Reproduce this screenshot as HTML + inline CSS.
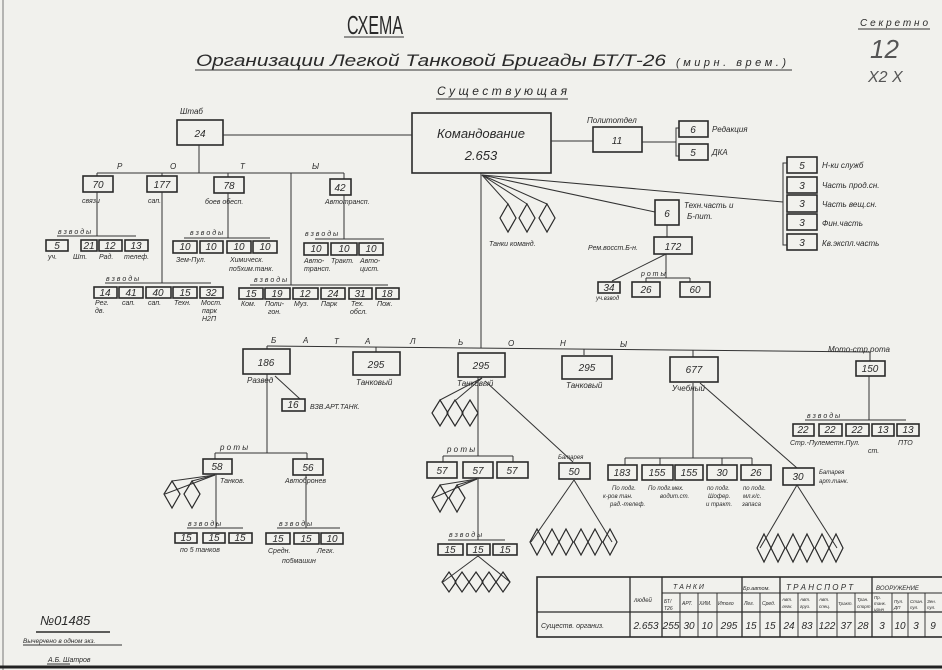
<!DOCTYPE html>
<html><head><meta charset="utf-8">
<style>
html,body{margin:0;padding:0;background:#f1f1ed;}
svg{display:block}
text{font-family:"Liberation Sans","DejaVu Sans",sans-serif;font-style:italic;fill:#2a2a2a}
.b{fill:none;stroke:#2a2a2a;stroke-width:1.6}
.l{fill:none;stroke:#333;stroke-width:1}
.d{fill:none;stroke:#2a2a2a;stroke-width:1.2}
.n{font-size:10px;text-anchor:middle}
.s{font-size:7px}
.m{font-size:8px}
</style></head><body>
<svg width="942" height="670" viewBox="0 0 942 670" xmlns="http://www.w3.org/2000/svg">
<rect width="942" height="670" fill="#f1f1ed"/>
<line x1="3" y1="0" x2="3" y2="670" stroke="#777" stroke-width="1"/>
<line x1="0" y1="667" x2="942" y2="667" stroke="#222" stroke-width="3"/>

<!-- titles -->
<text x="347" y="34" font-size="26" style="font-style:normal" textLength="56" lengthAdjust="spacingAndGlyphs">СХЕМА</text>
<line x1="344" y1="37" x2="404" y2="37" class="l" stroke-width="1.3"/>
<text x="196" y="66" font-size="17" textLength="470" lengthAdjust="spacingAndGlyphs">Организации Легкой Танковой Бригады БТ/Т-26</text>
<text x="676" y="66" font-size="11" textLength="110">(мирн. врем.)</text>
<line x1="195" y1="70" x2="792" y2="70" class="l" stroke-width="1.3"/>
<text x="437" y="95" font-size="12" textLength="130">Существующая</text>
<line x1="436" y1="99" x2="568" y2="99" class="l"/>
<text x="860" y="26" font-size="10" textLength="68">Секретно</text>
<line x1="858" y1="29" x2="930" y2="29" class="l"/>
<text x="870" y="58" font-size="26" style="fill:#555">12</text>
<text x="868" y="82" font-size="16" style="fill:#555">Х2 Х</text>

<!-- Command -->
<rect x="412" y="113" width="139" height="60" class="b"/>
<text x="481" y="138" font-size="13" text-anchor="middle">Командование</text>
<text x="481" y="160" font-size="13" text-anchor="middle">2.653</text>
<!-- shtab -->
<text x="180" y="114" class="m">Штаб</text>
<rect x="177" y="120" width="46" height="25" class="b"/>
<text x="200" y="137" class="n">24</text>
<line x1="223" y1="135" x2="412" y2="135" class="l"/>
<!-- politotdel -->
<text x="587" y="123" class="m">Политотдел</text>
<rect x="593" y="127" width="49" height="25" class="b"/>
<text x="617" y="144" class="n">11</text>
<line x1="551" y1="141" x2="593" y2="141" class="l"/>
<line x1="642" y1="142" x2="676" y2="142" class="l"/>
<polyline points="679,128 676,128 676,156 679,156" class="l"/>
<rect x="679" y="121" width="29" height="16" class="b"/><text x="693" y="133" class="n">6</text>
<rect x="679" y="144" width="29" height="16" class="b"/><text x="693" y="156" class="n">5</text>
<text x="712" y="132" class="m">Редакция</text>
<text x="712" y="155" class="m">ДКА</text>
<!-- right stack -->
<polyline points="787,163 783,163 783,245 787,245" class="l"/>
<rect x="787" y="157" width="30" height="16" class="b"/><text x="802" y="169" class="n">5</text>
<rect x="787" y="177" width="30" height="16" class="b"/><text x="802" y="189" class="n">3</text>
<rect x="787" y="195" width="30" height="17" class="b"/><text x="802" y="207" class="n">3</text>
<rect x="787" y="214" width="30" height="16" class="b"/><text x="802" y="226" class="n">3</text>
<rect x="787" y="234" width="30" height="16" class="b"/><text x="802" y="246" class="n">3</text>
<text x="822" y="168" class="m">Н-ки служб</text>
<text x="822" y="188" class="m">Часть прод.сн.</text>
<text x="822" y="207" class="m">Часть вещ.сн.</text>
<text x="822" y="226" class="m">Фин.часть</text>
<text x="822" y="246" class="m">Кв.экспл.часть</text>
<line x1="482" y1="175" x2="783" y2="202" class="l"/>
<!-- tech part -->
<line x1="482" y1="175" x2="655" y2="212" class="l"/>
<rect x="655" y="200" width="24" height="25" class="b"/><text x="667" y="217" class="n">6</text>
<text x="684" y="208" class="m">Техн.часть и</text>
<text x="687" y="219" class="m">Б-пит.</text>
<line x1="667" y1="225" x2="667" y2="237" class="l"/>
<rect x="654" y="237" width="38" height="17" class="b"/><text x="673" y="250" class="n">172</text>
<text x="588" y="250" class="s">Рем.восст.Б-н.</text>
<line x1="666" y1="254" x2="612" y2="281" class="l"/>
<line x1="666" y1="254" x2="666" y2="278" class="l"/>
<line x1="646" y1="278" x2="690" y2="278" class="l"/>
<line x1="646" y1="278" x2="646" y2="282" class="l"/>
<line x1="690" y1="278" x2="690" y2="282" class="l"/>
<text x="641" y="276" class="s">р о  т ы</text>
<rect x="598" y="282" width="22" height="11" class="b"/><text x="609" y="291" class="n" font-size="8">34</text>
<text x="596" y="300" font-size="6">уч.взвод</text>
<rect x="632" y="282" width="28" height="15" class="b"/><text x="646" y="293" class="n">26</text>
<rect x="680" y="282" width="30" height="15" class="b"/><text x="695" y="293" class="n">60</text>
<!-- command tanks -->
<line x1="482" y1="175" x2="508" y2="204" class="l"/>
<line x1="482" y1="175" x2="527" y2="204" class="l"/>
<line x1="482" y1="175" x2="547" y2="204" class="l"/>
<polygon points="508,204 516,218 508,232 500,218" class="d"/>
<polygon points="527,204 535,218 527,232 519,218" class="d"/>
<polygon points="547,204 555,218 547,232 539,218" class="d"/>
<text x="489" y="246" class="s">Танки команд.</text>
<line x1="481" y1="173" x2="481" y2="348" class="l"/>

<!-- Shtab companies -->
<line x1="199" y1="145" x2="199" y2="173" class="l"/>
<line x1="97" y1="173" x2="344" y2="173" class="l"/>
<text x="117" y="169" class="m">Р</text><text x="170" y="169" class="m">О</text><text x="240" y="169" class="m">Т</text><text x="312" y="169" class="m">Ы</text>
<line x1="97" y1="173" x2="97" y2="176" class="l"/>
<line x1="162" y1="173" x2="162" y2="176" class="l"/>
<line x1="228" y1="173" x2="228" y2="177" class="l"/>
<line x1="344" y1="173" x2="344" y2="179" class="l"/>
<rect x="83" y="176" width="30" height="16" class="b"/><text x="98" y="188" class="n">70</text>
<rect x="147" y="176" width="30" height="16" class="b"/><text x="162" y="188" class="n">177</text>
<rect x="214" y="177" width="30" height="16" class="b"/><text x="229" y="189" class="n">78</text>
<rect x="330" y="179" width="21" height="16" class="b"/><text x="340" y="191" class="n">42</text>
<text x="82" y="203" class="s">связи</text>
<text x="148" y="203" class="s">сап.</text>
<text x="205" y="204" class="s">боев обесп.</text>
<text x="325" y="204" class="s">Автотрансп.</text>
<!-- 70 platoons -->
<line x1="97" y1="192" x2="97" y2="236" class="l"/>
<line x1="57" y1="236" x2="136" y2="236" class="l"/>
<text x="58" y="234" class="s">в  з  в  о  д ы</text>
<rect x="46" y="240" width="22" height="11" class="b"/><text x="57" y="249" class="n" font-size="8">5</text>
<rect x="81" y="240" width="16" height="11" class="b"/><text x="89" y="249" class="n" font-size="8">21</text>
<rect x="99" y="240" width="23" height="11" class="b"/><text x="110" y="249" class="n" font-size="8">12</text>
<rect x="125" y="240" width="23" height="11" class="b"/><text x="136" y="249" class="n" font-size="8">13</text>
<text x="48" y="259" class="s">уч.</text><text x="73" y="259" class="s">Шт.</text><text x="99" y="259" class="s">Рад.</text><text x="124" y="259" class="s">телеф.</text>
<!-- 177 platoons -->
<line x1="162" y1="192" x2="162" y2="283" class="l"/>
<line x1="105" y1="283" x2="211" y2="283" class="l"/>
<text x="106" y="281" class="s">в    з    в    о    д    ы</text>
<rect x="94" y="287" width="23" height="11" class="b"/><text x="105" y="296" class="n" font-size="8">14</text>
<rect x="119" y="287" width="24" height="11" class="b"/><text x="131" y="296" class="n" font-size="8">41</text>
<rect x="146" y="287" width="25" height="11" class="b"/><text x="158" y="296" class="n" font-size="8">40</text>
<rect x="173" y="287" width="24" height="11" class="b"/><text x="185" y="296" class="n" font-size="8">15</text>
<rect x="200" y="287" width="23" height="11" class="b"/><text x="211" y="296" class="n" font-size="8">32</text>
<text x="95" y="305" class="s">Рег.</text><text x="95" y="313" class="s">дв.</text>
<text x="122" y="305" class="s">сап.</text><text x="148" y="305" class="s">сап.</text><text x="174" y="305" class="s">Техн.</text>
<text x="201" y="305" class="s">Мост.</text><text x="202" y="313" class="s">парк</text><text x="202" y="321" class="s">Н2П</text>
<!-- 78 platoons -->
<line x1="228" y1="193" x2="228" y2="238" class="l"/>
<line x1="184" y1="238" x2="270" y2="238" class="l"/>
<text x="190" y="235" class="s">в   з   в   о   д   ы</text>
<rect x="173" y="241" width="24" height="12" class="b"/><text x="185" y="250" class="n" font-size="8">10</text>
<rect x="200" y="241" width="23" height="12" class="b"/><text x="211" y="250" class="n" font-size="8">10</text>
<rect x="227" y="241" width="24" height="12" class="b"/><text x="239" y="250" class="n" font-size="8">10</text>
<rect x="253" y="241" width="24" height="12" class="b"/><text x="265" y="250" class="n" font-size="8">10</text>
<text x="176" y="262" class="s">Зем-Пул.</text>
<text x="230" y="262" class="s">Химическ.</text>
<text x="229" y="271" class="s">по5хим.танк.</text>
<!-- second group at 291 -->
<line x1="291" y1="173" x2="291" y2="285" class="l"/>
<line x1="250" y1="285" x2="388" y2="285" class="l"/>
<text x="254" y="282" class="s">в    з          в        о        д            ы</text>
<rect x="239" y="288" width="24" height="11" class="b"/><text x="251" y="297" class="n" font-size="8">15</text>
<rect x="265" y="288" width="25" height="11" class="b"/><text x="277" y="297" class="n" font-size="8">19</text>
<rect x="293" y="288" width="25" height="11" class="b"/><text x="305" y="297" class="n" font-size="8">12</text>
<rect x="321" y="288" width="24" height="11" class="b"/><text x="333" y="297" class="n" font-size="8">24</text>
<rect x="349" y="288" width="23" height="11" class="b"/><text x="360" y="297" class="n" font-size="8">31</text>
<rect x="376" y="288" width="23" height="11" class="b"/><text x="387" y="297" class="n" font-size="8">18</text>
<text x="241" y="306" class="s">Ком.</text><text x="265" y="306" class="s">Поли-</text><text x="268" y="314" class="s">гон.</text>
<text x="294" y="306" class="s">Муз.</text><text x="321" y="306" class="s">Парк</text>
<text x="351" y="306" class="s">Тех.</text><text x="350" y="314" class="s">обсл.</text><text x="377" y="306" class="s">Пож.</text>
<!-- 42 platoons -->
<line x1="344" y1="195" x2="344" y2="239" class="l"/>
<line x1="315" y1="239" x2="384" y2="239" class="l"/>
<text x="305" y="236" class="s">в  з  в  о  д  ы</text>
<rect x="304" y="243" width="24" height="12" class="b"/><text x="316" y="252" class="n" font-size="8">10</text>
<rect x="331" y="243" width="26" height="12" class="b"/><text x="344" y="252" class="n" font-size="8">10</text>
<rect x="359" y="243" width="24" height="12" class="b"/><text x="371" y="252" class="n" font-size="8">10</text>
<text x="304" y="263" class="s">Авто-</text><text x="304" y="271" class="s">трансп.</text>
<text x="331" y="263" class="s">Тракт.</text>
<text x="360" y="263" class="s">Авто-</text><text x="360" y="271" class="s">цист.</text>

<!-- battalions line -->
<line x1="267" y1="346" x2="870" y2="352" class="l"/>
<text x="271" y="343" class="m">Б</text><text x="303" y="343" class="m">А</text><text x="334" y="344" class="m">Т</text><text x="365" y="344" class="m">А</text>
<text x="410" y="344" class="m">Л</text><text x="458" y="345" class="m">Ь</text><text x="508" y="346" class="m">О</text><text x="560" y="346" class="m">Н</text><text x="620" y="347" class="m">Ы</text>
<text x="828" y="352" class="m">Мото-стр.рота</text>
<line x1="267" y1="346" x2="267" y2="349" class="l"/>
<line x1="376" y1="347" x2="376" y2="352" class="l"/>
<line x1="584" y1="349" x2="584" y2="355" class="l"/>
<line x1="693" y1="350" x2="693" y2="357" class="l"/>
<line x1="870" y1="352" x2="870" y2="361" class="l"/>
<rect x="243" y="349" width="47" height="25" class="b"/><text x="266" y="366" class="n" font-size="12">186</text>
<rect x="353" y="352" width="47" height="23" class="b"/><text x="376" y="368" class="n" font-size="12">295</text>
<rect x="458" y="353" width="47" height="24" class="b"/><text x="481" y="369" class="n" font-size="12">295</text>
<rect x="562" y="356" width="50" height="23" class="b"/><text x="587" y="371" class="n" font-size="12">295</text>
<rect x="670" y="357" width="48" height="25" class="b"/><text x="694" y="373" class="n" font-size="12">677</text>
<rect x="856" y="361" width="29" height="15" class="b"/><text x="870" y="372" class="n" font-size="8">150</text>
<text x="247" y="383" class="m">Развед</text>
<text x="356" y="385" class="m">Танковый</text>
<text x="457" y="386" class="m">Танковый</text>
<text x="566" y="388" class="m">Танковый</text>
<text x="672" y="391" class="m">Учебный</text>

<!-- 186 -->
<line x1="275" y1="376" x2="300" y2="399" class="l"/>
<rect x="282" y="399" width="23" height="12" class="b"/><text x="293" y="408" class="n" font-size="8">16</text>
<text x="310" y="409" class="s">ВЗВ.АРТ.ТАНК.</text>
<line x1="267" y1="374" x2="267" y2="453" class="l"/>
<line x1="215" y1="453" x2="307" y2="453" class="l"/>
<line x1="215" y1="453" x2="215" y2="459" class="l"/>
<line x1="307" y1="453" x2="307" y2="459" class="l"/>
<text x="220" y="450" class="m">р     о          т    ы</text>
<rect x="203" y="459" width="29" height="15" class="b"/><text x="217" y="470" class="n">58</text>
<rect x="293" y="459" width="30" height="16" class="b"/><text x="308" y="471" class="n">56</text>
<text x="220" y="483" class="s">Танков.</text>
<text x="285" y="483" class="s">Автобронев</text>
<line x1="215" y1="475" x2="165" y2="494" class="l"/>
<line x1="215" y1="475" x2="172" y2="481" class="l"/>
<line x1="215" y1="475" x2="192" y2="481" class="l"/>
<polygon points="172,481 180,494 172,508 164,494" class="d"/>
<polygon points="192,481 200,494 192,508 184,494" class="d"/>
<line x1="216" y1="474" x2="216" y2="528" class="l"/>
<line x1="187" y1="528" x2="243" y2="528" class="l"/>
<text x="188" y="526" class="s">в з в о д ы</text>
<rect x="175" y="533" width="22" height="10" class="b"/><text x="186" y="541" class="n" font-size="8">15</text>
<rect x="203" y="533" width="22" height="10" class="b"/><text x="214" y="541" class="n" font-size="8">15</text>
<rect x="229" y="533" width="23" height="10" class="b"/><text x="240" y="541" class="n" font-size="8">15</text>
<text x="180" y="552" class="s">по 5 танков</text>
<line x1="306" y1="475" x2="306" y2="528" class="l"/>
<line x1="277" y1="528" x2="340" y2="528" class="l"/>
<text x="279" y="526" class="s">в з в о д ы</text>
<rect x="266" y="533" width="24" height="11" class="b"/><text x="278" y="542" class="n" font-size="8">15</text>
<rect x="294" y="533" width="25" height="11" class="b"/><text x="306" y="542" class="n" font-size="8">15</text>
<rect x="321" y="533" width="22" height="11" class="b"/><text x="332" y="542" class="n" font-size="8">10</text>
<text x="268" y="553" class="s">Средн.</text><text x="317" y="553" class="s">Легк.</text>
<text x="282" y="563" class="s">по5машин</text>

<!-- 295 tank battalion -->
<line x1="482" y1="378" x2="440" y2="400" class="l"/>
<line x1="482" y1="378" x2="456" y2="400" class="l"/>
<polygon points="440,400 448,413 440,426 432,413" class="d"/>
<polygon points="455,400 463,413 455,426 447,413" class="d"/>
<polygon points="470,400 478,413 470,426 462,413" class="d"/>
<line x1="478" y1="377" x2="478" y2="456" class="l"/>
<line x1="443" y1="456" x2="513" y2="456" class="l"/>
<line x1="443" y1="456" x2="443" y2="462" class="l"/>
<line x1="513" y1="456" x2="513" y2="462" class="l"/>
<text x="447" y="452" class="m">р  о   т  ы</text>
<rect x="427" y="462" width="30" height="16" class="b"/><text x="442" y="474" class="n">57</text>
<rect x="463" y="462" width="30" height="16" class="b"/><text x="478" y="474" class="n">57</text>
<rect x="497" y="462" width="31" height="16" class="b"/><text x="512" y="474" class="n">57</text>
<line x1="485" y1="381" x2="573" y2="462" class="l"/>
<text x="558" y="459" font-size="6">Батарея</text>
<rect x="559" y="463" width="31" height="16" class="b"/><text x="574" y="475" class="n">50</text>
<line x1="477" y1="479" x2="433" y2="498" class="l"/>
<line x1="477" y1="479" x2="440" y2="485" class="l"/>
<line x1="477" y1="479" x2="457" y2="485" class="l"/>
<polygon points="440,485 448,498 440,512 432,498" class="d"/>
<polygon points="457,485 465,498 457,512 449,498" class="d"/>
<line x1="478" y1="478" x2="478" y2="540" class="l"/>
<line x1="448" y1="540" x2="505" y2="540" class="l"/>
<text x="449" y="537" class="s">в з в о д ы</text>
<rect x="438" y="544" width="25" height="11" class="b"/><text x="450" y="553" class="n" font-size="8">15</text>
<rect x="467" y="544" width="23" height="11" class="b"/><text x="478" y="553" class="n" font-size="8">15</text>
<rect x="493" y="544" width="24" height="11" class="b"/><text x="505" y="553" class="n" font-size="8">15</text>
<line x1="478" y1="556" x2="443" y2="582" class="l"/>
<line x1="478" y1="556" x2="510" y2="582" class="l"/>
<polygon points="449,572 456,582 449,592 442,582" class="d"/>
<polygon points="462,572 469,582 462,592 455,582" class="d"/>
<polygon points="476,572 483,582 476,592 469,582" class="d"/>
<polygon points="489,572 496,582 489,592 482,582" class="d"/>
<polygon points="503,572 510,582 503,592 496,582" class="d"/>
<!-- battery 50 diamonds -->
<line x1="574" y1="480" x2="531" y2="542" class="l"/>
<line x1="574" y1="480" x2="612" y2="542" class="l"/>
<polygon points="537,529 544,542 537,555 530,542" class="d"/>
<polygon points="552,529 559,542 552,555 545,542" class="d"/>
<polygon points="566,529 573,542 566,555 559,542" class="d"/>
<polygon points="581,529 588,542 581,555 574,542" class="d"/>
<polygon points="595,529 602,542 595,555 588,542" class="d"/>
<polygon points="610,529 617,542 610,555 603,542" class="d"/>

<!-- 677 -->
<line x1="693" y1="383" x2="693" y2="458" class="l"/>
<line x1="625" y1="458" x2="752" y2="458" class="l"/>
<line x1="625" y1="458" x2="625" y2="465" class="l"/>
<line x1="660" y1="458" x2="660" y2="465" class="l"/>
<line x1="722" y1="458" x2="722" y2="465" class="l"/>
<line x1="752" y1="458" x2="752" y2="465" class="l"/>
<rect x="608" y="465" width="29" height="15" class="b"/><text x="622" y="476" class="n">183</text>
<rect x="642" y="465" width="31" height="15" class="b"/><text x="657" y="476" class="n">155</text>
<rect x="675" y="465" width="28" height="15" class="b"/><text x="689" y="476" class="n">155</text>
<rect x="707" y="465" width="30" height="15" class="b"/><text x="722" y="476" class="n">30</text>
<rect x="741" y="465" width="30" height="15" class="b"/><text x="756" y="476" class="n">26</text>
<text x="612" y="490" font-size="6">По подг.</text>
<text x="603" y="498" font-size="6">к-ров тан.</text>
<text x="610" y="506" font-size="6">рад.-телеф.</text>
<text x="648" y="490" font-size="6">По подг.мех.</text>
<text x="660" y="498" font-size="6">водит.ст.</text>
<text x="707" y="490" font-size="6">по подг.</text>
<text x="708" y="498" font-size="6">Шофер.</text>
<text x="706" y="506" font-size="6">и тракт.</text>
<text x="743" y="490" font-size="6">по подг.</text>
<text x="743" y="498" font-size="6">мл.к/с.</text>
<text x="742" y="506" font-size="6">запаса</text>
<line x1="700" y1="383" x2="797" y2="468" class="l"/>
<rect x="783" y="468" width="31" height="17" class="b"/><text x="798" y="480" class="n">30</text>
<text x="819" y="474" font-size="6">Батарея</text>
<text x="819" y="483" font-size="6">арт.танк.</text>
<line x1="797" y1="485" x2="760" y2="548" class="l"/>
<line x1="797" y1="485" x2="837" y2="548" class="l"/>
<polygon points="764,534 771,548 764,562 757,548" class="d"/>
<polygon points="778,534 785,548 778,562 771,548" class="d"/>
<polygon points="793,534 800,548 793,562 786,548" class="d"/>
<polygon points="807,534 814,548 807,562 800,548" class="d"/>
<polygon points="822,534 829,548 822,562 815,548" class="d"/>
<polygon points="836,534 843,548 836,562 829,548" class="d"/>

<!-- moto rota -->
<line x1="869" y1="376" x2="869" y2="420" class="l"/>
<line x1="805" y1="420" x2="906" y2="420" class="l"/>
<text x="807" y="418" class="s">в        з        в              о         д     ы</text>
<rect x="793" y="424" width="21" height="12" class="b"/><text x="803" y="433" class="n" font-size="8">22</text>
<rect x="819" y="424" width="23" height="12" class="b"/><text x="830" y="433" class="n" font-size="8">22</text>
<rect x="846" y="424" width="23" height="12" class="b"/><text x="857" y="433" class="n" font-size="8">22</text>
<rect x="872" y="424" width="22" height="12" class="b"/><text x="883" y="433" class="n" font-size="8">13</text>
<rect x="897" y="424" width="22" height="12" class="b"/><text x="908" y="433" class="n" font-size="8">13</text>
<text x="790" y="445" class="s">Стр.-Пулеметн.Пул.</text>
<text x="898" y="445" class="s">ПТО</text>
<text x="868" y="453" class="s">ст.</text>

<!-- table -->
<g stroke="#2a2a2a" fill="none">
<rect x="537" y="577" width="410" height="60" stroke-width="1.6"/>
<line x1="537" y1="612" x2="942" y2="612" stroke-width="1.3"/>
<line x1="630" y1="577" x2="630" y2="637" stroke-width="1.3"/>
<line x1="662" y1="577" x2="662" y2="637" stroke-width="1.3"/>
<line x1="742" y1="577" x2="742" y2="637" stroke-width="1.3"/>
<line x1="780" y1="577" x2="780" y2="637" stroke-width="1.3"/>
<line x1="872" y1="577" x2="872" y2="637" stroke-width="1.3"/>
<line x1="662" y1="593" x2="942" y2="593" stroke-width="1"/>
<g stroke-width="0.9">
<line x1="680" y1="593" x2="680" y2="637"/><line x1="698" y1="593" x2="698" y2="637"/><line x1="717" y1="593" x2="717" y2="637"/>
<line x1="760" y1="593" x2="760" y2="637"/>
<line x1="798" y1="593" x2="798" y2="637"/><line x1="817" y1="593" x2="817" y2="637"/><line x1="837" y1="593" x2="837" y2="637"/><line x1="855" y1="593" x2="855" y2="637"/>
<line x1="892" y1="593" x2="892" y2="637"/><line x1="908" y1="593" x2="908" y2="637"/><line x1="925" y1="593" x2="925" y2="637"/>
</g></g>
<text x="634" y="602" font-size="6">людей</text>
<text x="673" y="589" class="s">Т  А  Н  К  И</text>
<text x="743" y="590" font-size="5.5">Бр.автом.</text>
<text x="786" y="590" class="m">Т Р А Н С П О Р Т</text>
<text x="876" y="590" font-size="6">ВООРУЖЕНИЕ</text>
<text x="664" y="603" font-size="5">БТ/</text><text x="664" y="610" font-size="5">Т26</text>
<text x="682" y="605" font-size="5">АРТ.</text>
<text x="699" y="605" font-size="5">ХИМ.</text>
<text x="718" y="605" font-size="5">Итого</text>
<text x="744" y="605" font-size="5">Лег.</text>
<text x="762" y="605" font-size="5">Сред.</text>
<text x="782" y="601" font-size="4.5">Авт.</text><text x="782" y="608" font-size="4.5">легк.</text>
<text x="800" y="601" font-size="4.5">Авт.</text><text x="800" y="608" font-size="4.5">груз.</text>
<text x="819" y="601" font-size="4.5">Авт.</text><text x="819" y="608" font-size="4.5">спец.</text>
<text x="838" y="605" font-size="4.5">Тракт.</text>
<text x="857" y="601" font-size="4.5">Тран.</text><text x="857" y="608" font-size="4.5">спорт</text>
<text x="874" y="599" font-size="4.5">Пр.</text><text x="874" y="605" font-size="4.5">танк.</text><text x="874" y="611" font-size="4.5">цонн</text>
<text x="894" y="603" font-size="4.5">Пул.</text><text x="894" y="609" font-size="4.5">ДП</text>
<text x="910" y="603" font-size="4.5">Стан.</text><text x="910" y="609" font-size="4.5">пул.</text>
<text x="927" y="603" font-size="4.5">Зен.</text><text x="927" y="609" font-size="4.5">пул.</text>
<text x="541" y="628" class="s">Существ. организ.</text>
<g font-size="10" text-anchor="middle">
<text x="646" y="629">2.653</text>
<text x="671" y="629">255</text><text x="689" y="629">30</text><text x="707" y="629">10</text><text x="729" y="629">295</text>
<text x="751" y="629">15</text><text x="770" y="629">15</text>
<text x="789" y="629">24</text><text x="807" y="629">83</text><text x="827" y="629">122</text><text x="846" y="629">37</text><text x="863" y="629">28</text>
<text x="882" y="629">3</text><text x="900" y="629">10</text><text x="916" y="629">3</text><text x="933" y="629">9</text>
</g>

<!-- bottom left -->
<text x="40" y="625" font-size="13">№01485</text>
<line x1="36" y1="632" x2="110" y2="632" stroke="#2a2a2a" stroke-width="1.5"/>
<text x="23" y="643" font-size="6.5">Вычерчено в одном экз.</text>
<line x1="23" y1="645" x2="122" y2="645" class="l" stroke-width="0.6"/>
<text x="48" y="662" font-size="7">А.Б.   Шатров</text>
<line x1="47" y1="664" x2="70" y2="664" class="l" stroke-width="0.6"/>
</svg>
</body></html>
